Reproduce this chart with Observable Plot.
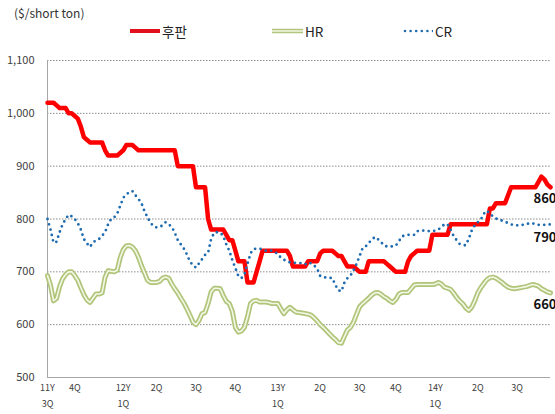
<!DOCTYPE html>
<html><head><meta charset="utf-8">
<script src="https://cdn.jsdelivr.net/npm/d3@7"></script>
<script src="https://cdn.jsdelivr.net/npm/@observablehq/plot@0.6"></script>
<style>
body{margin:0;background:#fff;font-family:"Noto Sans CJK KR","Noto Sans",sans-serif;}
#wrap{position:relative;width:555px;height:414px;overflow:hidden;}
#head{position:relative;width:555px;height:46px;}
.title{position:absolute;left:14px;top:4px;font-size:12px;color:#333;}
.leg{position:absolute;top:21px;display:flex;align-items:center;font-size:13.5px;color:#222;}
.leg svg{margin-right:2px;}
</style></head>
<body>
<div id="wrap"><div id="head"><div class="title">($/short ton)</div></div><div id="chart"></div></div>
<script>
// Series names
const seriesNames = ["후판", "HR", "CR"];
// Quarter tick labels and the week index where each sits
const tickWeeks = [0, 9, 25, 36, 49, 62, 76, 90, 103, 115, 128, 142, 155];
const tickLabels = ["11Y\n3Q", "4Q", "12Y\n1Q", "2Q", "3Q", "4Q", "13Y\n1Q", "2Q", "3Q", "4Q", "14Y\n1Q", "2Q", "3Q"];
const yTicks = [500, 600, 700, 800, 900, 1000, 1100];

// 후판 (plate), weekly $/short ton
const plate = [
 1020,1020,1020,1015,1010,1010,1010,1000,1000,995,
 990,975,955,950,945,945,945,945,945,930,
 920,920,920,920,925,930,940,940,940,935,
 930,930,930,930,930,930,930,930,930,930,
 930,930,930,900,900,900,900,900,900,860,
 860,860,860,800,780,780,780,780,780,770,
 760,760,740,720,720,720,680,680,680,700,
 720,740,740,740,740,740,740,740,740,740,
 730,710,710,710,710,710,720,720,720,720,
 735,740,740,740,740,735,730,730,720,710,
 710,710,705,700,700,700,720,720,720,720,
 720,720,715,710,705,700,700,700,700,720,
 730,735,740,740,740,740,740,770,770,770,
 770,770,770,790,790,790,790,790,790,790,
 790,790,790,790,790,790,820,820,830,830,
 830,830,845,860,860,860,860,860,860,860,
 860,860,870,880,875,865,860];

// HR (hot rolled)
const hr = [
 693,674,645,650,672,687,695,700,700,693,
 684,670,657,647,642,650,658,658,660,690,
 702,701,700,703,727,742,749,750,747,740,
 728,712,698,684,680,680,680,682,688,690,
 688,677,668,660,650,641,630,618,605,600,
 608,621,623,640,662,669,669,668,655,644,
 640,625,595,586,588,595,615,640,645,646,
 643,643,643,642,640,640,640,630,621,628,
 633,628,624,623,622,621,620,618,613,607,
 600,595,589,583,577,572,566,565,578,590,
 595,605,620,634,640,645,650,656,660,661,
 658,653,650,645,642,648,658,661,661,661,
 668,675,676,676,676,676,676,676,677,680,
 677,671,669,667,660,652,645,640,632,627,
 633,645,660,670,678,685,689,690,688,684,
 680,675,671,669,668,669,670,671,672,674,
 676,675,673,668,665,662,660];

// CR (cold rolled)
const cr = [
 800,780,755,757,775,790,800,808,805,800,
 792,780,762,754,747,755,760,762,768,775,
 790,800,803,810,825,840,847,850,853,845,
 838,830,815,803,793,786,784,785,788,794,
 790,785,774,760,752,744,733,720,712,708,
 716,724,732,736,762,774,775,774,768,752,
 740,722,707,692,688,695,715,735,743,744,
 744,742,740,740,740,738,733,727,723,720,
 718,717,717,717,716,714,718,716,712,706,
 692,690,689,689,688,675,665,663,680,688,
 693,703,715,730,745,748,755,760,766,762,
 757,750,748,748,748,750,758,767,769,770,
 770,770,777,778,778,778,777,777,778,780,
 785,790,790,780,768,760,753,751,750,762,
 778,788,794,799,810,816,810,805,801,798,
 797,795,792,790,788,788,789,789,790,792,
 792,790,789,789,789,789,790];

const data = plate.map((p, i) => ({w: i, plate: p, hr: hr[i], cr: cr[i]}));
const labelMap = new Map(tickWeeks.map((w, i) => [w, tickLabels[i]]));
const last = data[data.length - 1];

// Legend (HTML)
const head = document.getElementById("head");
const legPos = [130, 272, 403];
const swatches = [
 '<svg width="30" height="10"><line x1="0" y1="5" x2="30" y2="5" stroke="#e0101c" stroke-width="4"/></svg>',
 '<svg width="31" height="10"><line x1="0" y1="5" x2="31" y2="5" stroke="#b3c77c" stroke-width="4.5"/><line x1="0" y1="5" x2="31" y2="5" stroke="#f3f7e6" stroke-width="1.5"/></svg>',
 '<svg width="30" height="10"><line x1="2" y1="5" x2="30" y2="5" stroke="#1f6bb0" stroke-width="2.6" stroke-dasharray="0,5.6" stroke-linecap="round"/></svg>'
];
seriesNames.forEach((n, i) => {
  const d = document.createElement("div");
  d.className = "leg";
  d.style.left = legPos[i] + "px";
  d.innerHTML = swatches[i] + "<span>" + n + "</span>";
  head.appendChild(d);
});

const chart = Plot.plot({
  width: 555, height: 368,
  marginLeft: 47, marginRight: 5, marginTop: 14, marginBottom: 37,
  x: {domain: [0, 166]},
  y: {domain: [500, 1100]},
  style: {fontFamily: '"Noto Sans CJK KR","Noto Sans",sans-serif', background: "white", overflow: "visible"},
  marks: [
    Plot.gridY(yTicks.slice(1), {stroke: "#8c8c8c", strokeOpacity: 1, strokeDasharray: "1.5,1.5"}),
    Plot.ruleY([500], {stroke: "#a6a6a6"}),
    Plot.ruleX([0], {stroke: "#a6a6a6"}),
    Plot.axisY({ticks: yTicks, tickFormat: d3.format(","), tickSize: 0, tickPadding: 13, fontSize: 11, fill: "#404040", label: null}),
    Plot.axisX({ticks: tickWeeks, tickFormat: d => labelMap.get(d), tickSize: 0, tickPadding: 3, fontSize: 9, lineHeight: 1.7, fill: "#404040", label: null}),
    Plot.lineY(data, {x: "w", y: "plate", stroke: "#ff0000", strokeWidth: 4.5}),
    Plot.lineY(data, {x: "w", y: "hr", stroke: "#b0c57a", strokeWidth: 5}),
    Plot.lineY(data, {x: "w", y: "hr", stroke: "#f3f7e6", strokeWidth: 1.6}),
    Plot.lineY(data, {x: "w", y: "cr", stroke: "#1f6bb0", strokeWidth: 2.8, strokeDasharray: "0,5.5", strokeLinecap: "round"}),
    Plot.text([last], {x: "w", y: "plate", text: d => String(d.plate), textAnchor: "end", dx: 6, dy: 11.5, fontSize: 13, fontWeight: "bold", fill: "#111"}),
    Plot.text([last], {x: "w", y: "cr", text: d => String(d.cr), textAnchor: "end", dx: 6, dy: 14, fontSize: 13, fontWeight: "bold", fill: "#111"}),
    Plot.text([last], {x: "w", y: "hr", text: d => String(d.hr), textAnchor: "end", dx: 6, dy: 12, fontSize: 13, fontWeight: "bold", fill: "#111"})
  ]
});
document.getElementById("chart").appendChild(chart);
</script>
</body></html>
